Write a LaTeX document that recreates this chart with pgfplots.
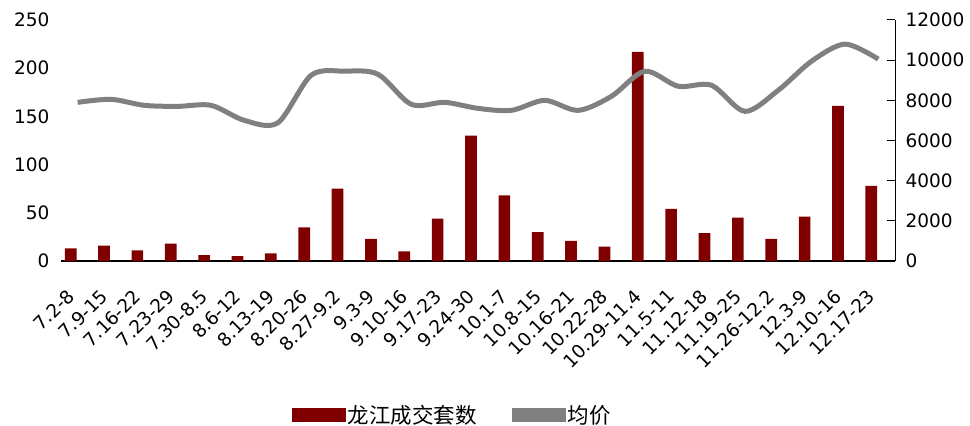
\documentclass[border=0pt]{standalone}
\usepackage{pgfplots}
\pgfplotsset{compat=1.18}
\usepackage{fontspec}
\setmainfont{DejaVu Sans}
\newfontfamily\cjk{Noto Sans CJK SC}
\definecolor{barred}{RGB}{128,0,0}
\definecolor{linegray}{RGB}{128,128,128}

\pgfplotsset{
  boxlegend/.style={legend image code/.code={\fill[##1] (0pt,-7pt) rectangle (54pt,7pt);}},
  tickfont/.style={font=\fontsize{18.5}{20}\selectfont},
}

\begin{document}
\begin{tikzpicture}
\useasboundingbox (-61pt,-165pt) rectangle (909pt,261pt);
\begin{axis}[
  at={(0pt,0pt)}, anchor=south west,
  width=834pt, height=241pt, scale only axis,
  xmin=-0.5, xmax=24.5,
  ymin=0, ymax=250,
  ytick={0,50,...,250},
  xtick={0,...,24},
  xticklabels={7.2-8,7.9-15,7.16-22,7.23-29,7.30-8.5,8.6-12,8.13-19,8.20-26,8.27-9.2,9.3-9,9.10-16,9.17-23,9.24-30,10.1-7,10.8-15,10.16-21,10.22-28,10.29-11.4,11.5-11,11.12-18,11.19-25,11.26-12.2,12.3-9,12.10-16,12.17-23},
  axis x line*=bottom,
  axis y line*=left,
  y axis line style={draw=none},
  x axis line style={line width=1.5pt, -},
  major tick length=0pt,
  tick label style={tickfont},
  xticklabel style={xshift=-12pt, yshift=-22pt, rotate=45, anchor=north east},
  yticklabel style={xshift=-8pt},
  /pgf/number format/assume math mode=true,
  legend style={at={(0.469,-0.639)}, anchor=center, draw=none, fill=none,
    legend columns=2, font=\cjk\fontsize{21.5}{24}\selectfont,
    /tikz/every even column/.append style={column sep=33pt}},
  clip=false,
]
\addplot[ybar, bar width=0.35, bar shift=-0.21, fill=barred, draw=none, boxlegend] coordinates {
  (0,13) (1,16) (2,11) (3,18) (4,6) (5,5) (6,8) (7,35) (8,75) (9,23)
  (10,10) (11,44) (12,130) (13,68) (14,30) (15,21) (16,15) (17,217) (18,54) (19,29)
  (20,45) (21,23) (22,46) (23,161) (24,78)
};
\addlegendentry{龙江成交套数}
\addlegendimage{fill=linegray, draw=none, boxlegend}
\addlegendentry{均价}
\end{axis}

\begin{axis}[
  at={(0pt,0pt)}, anchor=south west,
  width=834pt, height=241pt, scale only axis,
  xmin=-0.5, xmax=24.5,
  ymin=0, ymax=12000,
  ytick={0,2000,...,12000},
  scaled y ticks=false,
  axis y line*=right,
  axis x line=none,
  y axis line style={line width=1pt, -},
  ytick style={line width=1pt, black},
  tick align=inside,
  major tick length=8pt,
  tick label style={tickfont},
  yticklabel style={xshift=7pt},
  /pgf/number format/assume math mode=true,
  /pgf/number format/1000 sep={},
  clip=false,
]
\addplot[linegray, line width=5pt, smooth, tension=0.5] coordinates {
  (0,7900) (1,8050) (2,7750) (3,7700) (4,7750) (5,7000) (6,6880) (7,9250) (8,9450) (9,9300)
  (10,7800) (11,7900) (12,7600) (13,7500) (14,8000) (15,7500) (16,8200) (17,9450) (18,8700) (19,8750)
  (20,7450) (21,8500) (22,9950) (23,10800) (24,10050)
};
\end{axis}
\end{tikzpicture}
\end{document}
